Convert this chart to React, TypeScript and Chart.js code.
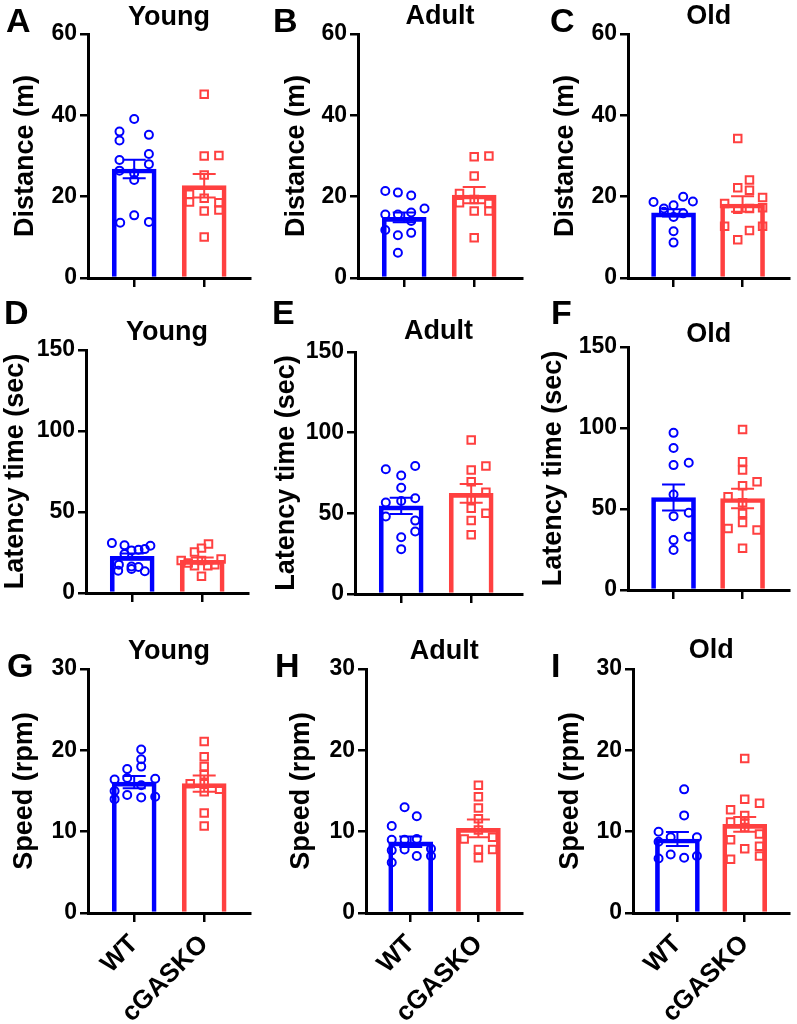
import React, { useEffect, useRef } from 'react';
import { Chart, registerables } from 'chart.js';

Chart.register(...registerables);

const FONT = "'Liberation Sans', Arial, sans-serif";
Chart.defaults.font.family = FONT;

const groups = ['WT', 'cGASKO'];
const ages = ['Young', 'Adult', 'Old'];
const letters = ['A', 'B', 'C', 'D', 'E', 'F', 'G', 'H', 'I'];
const measureTitles = ['Distance (m)', 'Latency time (sec)', 'Speed (rpm)'];
const measureMax = [60, 150, 30];
const measureStep = [20, 50, 10];

// ---- Distance (m) ----
const distYoungWT = [39.1, 36.0, 33.8, 35.2, 30.5, 29.0, 28.0, 26.4, 25.7, 24.1, 13.6, 15.4, 13.8];
const distYoungWTx = [0, -0.21, -0.21, 0.21, 0.21, -0.21, 0.21, -0.21, 0, 0, -0.2, 0, 0.21];
const distYoungKO = [45.2, 30.0, 30.1, 25.3, 20.6, 18.7, 19.6, 18.5, 16.5, 16.7, 10.1];
const distYoungKOx = [0, 0, 0.21, 0, -0.21, -0.21, 0, 0.21, 0, 0.21, 0];
const distAdultWT = [21.4, 21.0, 20.3, 17.1, 15.6, 15.6, 16.1, 14.0, 11.8, 10.5, 11.1, 6.2];
const distAdultWTx = [-0.27, -0.09, 0.1, 0.29, -0.27, -0.09, 0.1, 0.1, -0.27, -0.09, 0.1, -0.09];
const distAdultKO = [29.8, 30.0, 25.1, 20.8, 18.5, 19.3, 18.3, 16.5, 16.5, 9.9];
const distAdultKOx = [0, 0.21, 0, -0.21, -0.21, 0, 0.21, 0, 0.21, 0];
const distOldWT = [18.7, 17.1, 17.9, 20.0, 18.8, 15.0, 15.9, 16.3, 11.5, 8.7];
const distOldWTx = [-0.29, -0.14, 0, 0.14, 0.28, 0, 0.14, -0.14, 0, 0];
const distOldKO = [34.3, 24.1, 22.2, 21.6, 18.3, 19.8, 16.9, 17.1, 17.3, 12.7, 12.7, 11.7, 9.4];
const distOldKOx = [-0.07, 0.1, -0.07, 0.1, -0.26, 0.29, -0.07, 0.1, 0.29, -0.26, 0.29, 0.1, -0.07];
const distanceMean = [[26.8, 22.7], [14.9, 20.4], [16.0, 18.2]];
const distanceSem = [[2.3, 2.9], [1.2, 2.0], [0.9, 1.9]];

// ---- Latency time (sec) ----
const latYoungWT = [30.8, 29.4, 29.2, 26.3, 26.7, 27.1, 24.0, 17.5, 16.4, 16.0, 13.8, 14.8, 13.4];
const latYoungWTx = [-0.29, -0.11, 0.26, -0.01, 0.09, 0.18, -0.11, -0.19, -0.01, 0.09, -0.2, -0.01, 0.18];
const latYoungKO = [30.2, 27.7, 25.3, 20.1, 21.0, 18.5, 16.8, 16.8, 17.5, 10.3, 20.0];
const latYoungKOx = [0.09, -0.01, -0.11, -0.3, 0.27, -0.2, -0.11, 0.08, 0.18, -0.01, -0.01];
const latAdultWT = [77.3, 79.3, 73.4, 65.9, 56.7, 57.7, 59.3, 48.0, 45.5, 38.7, 35.2, 27.8];
const latAdultWTx = [-0.22, 0.2, 0, 0, -0.22, 0, 0.2, -0.22, 0.2, 0.2, 0, 0];
const latAdultKO = [95.4, 76.9, 79.3, 69.6, 63.1, 58.7, 53.2, 50.1, 45.5, 36.7];
const latAdultKOx = [0, 0, 0.21, 0, 0.21, 0, 0, 0.21, 0, 0];
const latOldWT = [97.0, 87.7, 77.1, 78.5, 59.0, 47.7, 45.6, 32.9, 30.8, 24.7];
const latOldWTx = [0, 0, 0, 0.22, 0, 0.22, 0, 0.22, 0, 0];
const latOldKO = [99.0, 79.1, 74.0, 66.8, 64.3, 57.5, 53.8, 47.3, 41.7, 38.0, 37.0, 25.7];
const latOldKOx = [0, 0, 0, 0.21, 0, -0.21, 0, 0, 0, -0.21, 0.21, 0];
const latencyMean = [[22.6, 20.1], [54.6, 62.4], [57.1, 56.5]];
const latencySem = [[1.8, 1.8], [5.0, 5.8], [8.0, 6.0]];

// ---- Speed (rpm) ----
const spdYoungWT = [20.1, 18.9, 18.0, 17.7, 16.4, 16.6, 16.5, 15.0, 14.5, 15.7, 14.2, 14.0, 14.3];
const spdYoungWTx = [0.1, 0.1, 0.1, -0.1, -0.28, -0.1, 0.3, -0.28, -0.1, 0.1, 0.1, -0.28, 0.3];
const spdYoungKO = [21.1, 19.2, 18.0, 17.0, 15.9, 15.9, 14.9, 15.2, 12.3, 10.7];
const spdYoungKOx = [0, 0, 0, 0, -0.2, 0, 0, 0.22, 0, 0];
const spdAdultWT = [13.0, 11.9, 10.7, 9.0, 9.0, 9.1, 7.9, 7.8, 7.7, 7.0, 7.0, 6.2];
const spdAdultWTx = [-0.09, 0.09, -0.28, -0.28, -0.09, 0.09, 0.3, -0.09, -0.28, 0.09, 0.3, -0.28];
const spdAdultKO = [15.7, 14.3, 12.9, 11.6, 10.2, 9.1, 9.3, 7.8, 7.8, 6.8];
const spdAdultKOx = [0, 0, 0, 0, 0, -0.21, 0.21, 0, 0.21, 0];
const spdOldWT = [15.2, 12.0, 10.0, 8.75, 9.3, 9.3, 7.2, 6.7, 6.8, 7.0];
const spdOldWTx = [0.1, 0.1, -0.28, -0.28, -0.1, 0.29, -0.1, -0.28, 0.1, 0.29];
const spdOldKO = [19.0, 14.0, 13.5, 12.7, 12.0, 11.0, 10.5, 11.2, 9.7, 9.0, 7.9, 8.2, 6.6, 7.0];
const spdOldKOx = [0, 0, 0.22, -0.21, 0, 0, 0, -0.21, 0.22, -0.21, 0, 0.22, -0.21, 0.22];
const speedMean = [[16.1, 15.9], [8.75, 10.4], [9.1, 10.9]];
const speedSem = [[0.75, 1.0], [0.65, 1.1], [0.85, 0.9]];

const rowsData = [
  { wt: [distYoungWT, distAdultWT, distOldWT], wtX: [distYoungWTx, distAdultWTx, distOldWTx],
    ko: [distYoungKO, distAdultKO, distOldKO], koX: [distYoungKOx, distAdultKOx, distOldKOx],
    mean: distanceMean, sem: distanceSem },
  { wt: [latYoungWT, latAdultWT, latOldWT], wtX: [latYoungWTx, latAdultWTx, latOldWTx],
    ko: [latYoungKO, latAdultKO, latOldKO], koX: [latYoungKOx, latAdultKOx, latOldKOx],
    mean: latencyMean, sem: latencySem },
  { wt: [spdYoungWT, spdAdultWT, spdOldWT], wtX: [spdYoungWTx, spdAdultWTx, spdOldWTx],
    ko: [spdYoungKO, spdAdultKO, spdOldKO], koX: [spdYoungKOx, spdAdultKOx, spdOldKOx],
    mean: speedMean, sem: speedSem },
];

// ---- layout (pixels) ----
const BLUE = '#0000FF';
const RED = '#FF4040';
const colLeft = [0, 265, 530];
const colWidth = [265, 265, 267];
const rowTop = [0, 305, 615];
const rowHeight = [305, 310, 409];
// chart area [left, right, top, bottom] in canvas coords
const areas = [
  [88, 250, 34, 278], [93, 257, 34, 278], [98, 262, 34, 278],
  [86, 248, 45, 288], [90, 257, 47, 289], [98, 262, 42, 285],
  [88, 250, 54, 298], [101, 263, 54, 298], [103, 266, 54, 298],
];
const titleCenterY = [18, 17, 17, 28, 27, 30, 37, 37, 36];
const yTitleCenterX = [26, 32, 36, 16, 22, 24, 25, 37, 41];
const letterPos = [
  [6, 3], [273, 3], [550, 3],
  [4, 295], [272, 295], [551, 295],
  [7, 648], [275, 648], [551, 648],
];

const errorBarPlugin = {
  id: 'errorBars',
  afterDatasetDraw(chart: any, args: any, opts: any) {
    if (args.index !== 0) return;
    const { ctx } = chart;
    const xs = chart.scales.x;
    const ys = chart.scales.y;
    const means: number[] = opts.means;
    const sems: number[] = opts.sems;
    ctx.save();
    ctx.lineWidth = 2;
    means.forEach((m, i) => {
      const px = xs.getPixelForValue(i);
      const top = ys.getPixelForValue(m + sems[i]);
      const bot = ys.getPixelForValue(m - sems[i]);
      ctx.strokeStyle = opts.colors[i];
      ctx.beginPath();
      ctx.moveTo(px, top);
      ctx.lineTo(px, bot);
      ctx.moveTo(px - 11.5, top);
      ctx.lineTo(px + 11.5, top);
      ctx.moveTo(px - 11.5, bot);
      ctx.lineTo(px + 11.5, bot);
      ctx.stroke();
    });
    ctx.restore();
  },
};

function Panel({ row, col }: { row: number; col: number }) {
  const ref = useRef<HTMLCanvasElement | null>(null);
  const idx = row * 3 + col;
  const W = colWidth[col];
  const H = rowHeight[row];
  useEffect(() => {
    const d = rowsData[row];
    const [L, R, T, B] = areas[idx];
    const xMin = -0.66;
    const xMax = xMin + (R - L) / 70;
    const means = d.mean[col];
    const sems = d.sem[col];
    const tCY = titleCenterY[idx];
    const titleLH = 0.9 * 27;
    const yTitleLH = 1.2 * 27;
    const chart = new Chart(ref.current as HTMLCanvasElement, {
      type: 'bar',
      data: {
        datasets: [
          {
            type: 'bar',
            data: means.map((m, i) => ({ x: i, y: m })),
            backgroundColor: 'rgba(255,255,255,0)',
            borderColor: [BLUE, RED],
            borderWidth: 4,
            borderSkipped: 'start',
            barThickness: 44,
            order: 3,
          } as any,
          {
            type: 'scatter',
            data: d.wt[col].map((v, i) => ({ x: d.wtX[col][i], y: v })),
            pointStyle: 'circle',
            pointRadius: 4,
            borderWidth: 2,
            borderColor: BLUE,
            backgroundColor: 'rgba(255,255,255,0)',
            order: 1,
          } as any,
          {
            type: 'scatter',
            data: d.ko[col].map((v, i) => ({ x: 1 + d.koX[col][i], y: v })),
            pointStyle: 'rect',
            pointRadius: 5.3,
            borderWidth: 2,
            borderColor: RED,
            backgroundColor: 'rgba(255,255,255,0)',
            order: 1,
          } as any,
        ],
      },
      options: {
        responsive: false,
        animation: false,
        events: [],
        layout: { padding: { left: 0, right: W - R, top: 0, bottom: 0 } },
        plugins: {
          legend: { display: false },
          tooltip: { enabled: false },
          title: {
            display: true,
            text: ages[col],
            fullSize: false,
            color: '#000',
            font: { size: 27, weight: 'bold', lineHeight: 0.9 },
            padding: { top: tCY - titleLH / 2, bottom: T - tCY - titleLH / 2 },
          },
          errorBars: { means, sems, colors: [BLUE, RED] },
        } as any,
        scales: {
          x: {
            type: 'linear',
            min: xMin,
            max: xMax,
            offset: false,
            afterBuildTicks: (s: any) => {
              s.ticks = [{ value: 0 }, { value: 1 }];
            },
            afterFit: (s: any) => {
              s.height = H - B;
            },
            ticks: {
              display: row === 2,
              autoSkip: false,
              minRotation: 45,
              maxRotation: 45,
              padding: 7,
              color: '#000',
              font: { size: 26, weight: 'bold' },
              callback: (v: any) => groups[v] ?? '',
            },
            grid: { drawOnChartArea: false, drawTicks: true, tickLength: 9, color: '#000', lineWidth: 2.5, offset: false },
            border: { display: true, color: '#000', width: 3 },
          },
          y: {
            min: 0,
            max: measureMax[row],
            afterFit: (s: any) => {
              s.width = L;
            },
            ticks: { stepSize: measureStep[row], color: '#000', padding: 3, font: { size: 23, weight: 'bold' } },
            title: {
              display: true,
              text: measureTitles[row],
              color: '#000',
              font: { size: 27, weight: 'bold', lineHeight: 1.2 },
              padding: { top: yTitleCenterX[idx] - yTitleLH / 2, bottom: 0 },
            },
            grid: { drawOnChartArea: false, drawTicks: true, tickLength: 8, color: '#000', lineWidth: 2.5 },
            border: { display: true, color: '#000', width: 3 },
          },
        } as any,
      },
      plugins: [errorBarPlugin],
    });
    return () => chart.destroy();
  }, [row, col]);
  return (
    <canvas
      ref={ref}
      width={W}
      height={H}
      style={{ position: 'absolute', left: colLeft[col], top: rowTop[row], width: W, height: H }}
    />
  );
}

export default function App() {
  const cells = [];
  for (let r = 0; r < 3; r++) for (let c = 0; c < 3; c++) cells.push([r, c]);
  return (
    <div style={{ position: 'absolute', left: 0, top: 0, width: 797, height: 1024, background: '#fff', overflow: 'hidden' }}>
      {cells.map(([r, c]) => (
        <Panel key={`${r}-${c}`} row={r} col={c} />
      ))}
      {letters.map((l, i) => (
        <div
          key={l}
          style={{
            position: 'absolute',
            left: letterPos[i][0],
            top: letterPos[i][1],
            fontFamily: FONT,
            fontWeight: 'bold',
            fontSize: 34,
            lineHeight: 1,
            color: '#000',
          }}
        >
          {l}
        </div>
      ))}
    </div>
  );
}
